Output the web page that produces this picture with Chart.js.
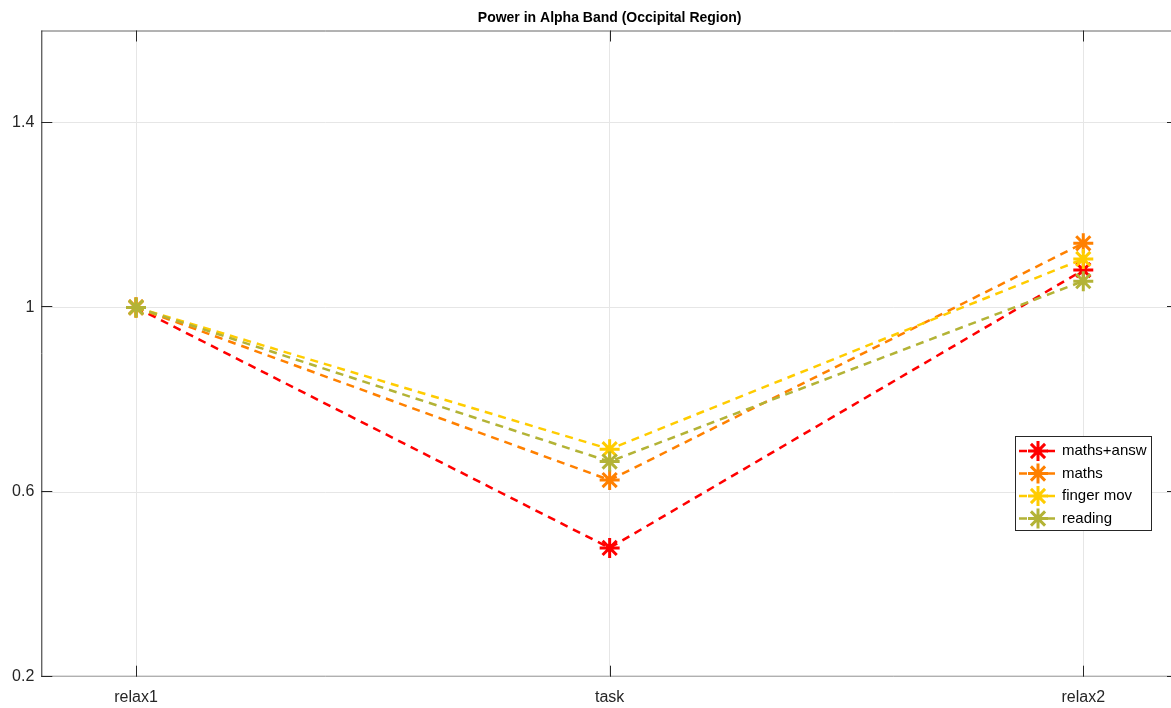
<!DOCTYPE html>
<html>
<head>
<meta charset="utf-8">
<script src="https://cdn.jsdelivr.net/npm/chart.js@4.4.1/dist/chart.umd.min.js"></script>
<style>
html,body{margin:0;padding:0;background:#fff;overflow:hidden;width:1171px;height:708px;}
#wrap{position:absolute;left:0;top:0;width:1192px;height:708px;}
</style>
</head>
<body>
<div id="wrap"><canvas id="c" width="1192" height="708"></canvas></div>
<script>
const categories = ['relax1', 'task', 'relax2'];
const seriesNames = ['maths+answ', 'maths', 'finger mov', 'reading'];
const mathsAnsw = [1.0, 0.479, 1.081];
const maths = [1.0, 0.626, 1.139];
const fingerMov = [1.0, 0.693, 1.105];
const reading = [1.0, 0.666, 1.057];
const yTicks = [0.2, 0.6, 1.0, 1.4];
const titleText = 'Power in Alpha Band (Occipital Region)';

const colors = ['#ff0000', '#ff8000', '#ffcc00', '#b3b336'];
const seriesValues = [mathsAnsw, maths, fingerMov, reading];
const FONT = '"Liberation Sans", Arial, Helvetica, sans-serif';

const datasets = seriesValues.map((vals, i) => ({
  label: seriesNames[i],
  data: vals.map((v, j) => ({x: j + 1, y: v})),
  borderColor: colors[i],
  backgroundColor: colors[i],
  borderWidth: 2.5,
  borderDash: [8, 6],
  pointStyle: 'star',
  pointRadius: 10,
  pointBorderWidth: 3,
  pointBorderColor: colors[i],
  pointHoverRadius: 10,
  tension: 0,
  fill: false,
  order: seriesValues.length - i
}));

const TL = 11;
const framePlugin = {
  id: 'frame',
  afterDatasetsDraw(chart) {
    const ctx = chart.ctx, a = chart.chartArea;
    const xs = chart.scales.x, ys = chart.scales.y;
    ctx.save();
    ctx.lineWidth = 1;
    ctx.strokeStyle = '#666666';
    ctx.beginPath(); ctx.moveTo(a.left, a.top + 0.5); ctx.lineTo(a.right, a.top + 0.5); ctx.stroke();
    ctx.strokeStyle = '#999999';
    ctx.beginPath(); ctx.moveTo(a.left, a.bottom - 0.5); ctx.lineTo(a.right, a.bottom - 0.5); ctx.stroke();
    ctx.strokeStyle = '#262626';
    ctx.beginPath(); ctx.moveTo(a.left + 0.5, a.top); ctx.lineTo(a.left + 0.5, a.bottom); ctx.stroke();
    ctx.beginPath(); ctx.moveTo(a.right - 0.5, a.top); ctx.lineTo(a.right - 0.5, a.bottom); ctx.stroke();
    xs.ticks.forEach(t => {
      const px = Math.round(xs.getPixelForValue(t.value)) + 0.5;
      ctx.beginPath(); ctx.moveTo(px, a.bottom); ctx.lineTo(px, a.bottom - TL); ctx.stroke();
      ctx.beginPath(); ctx.moveTo(px, a.top); ctx.lineTo(px, a.top + TL); ctx.stroke();
    });
    ys.ticks.forEach(t => {
      const py = Math.round(ys.getPixelForValue(t.value)) - 0.5;
      ctx.beginPath(); ctx.moveTo(a.left, py); ctx.lineTo(a.left + TL, py); ctx.stroke();
      ctx.beginPath(); ctx.moveTo(a.right, py); ctx.lineTo(a.right - TL, py); ctx.stroke();
    });
    ctx.fillStyle = '#000000';
    ctx.font = 'bold 14px ' + FONT;
    ctx.textAlign = 'center';
    ctx.textBaseline = 'middle';
    ctx.fillText(titleText, (a.left + a.right) / 2, 18);
    // legend
    const bx = 1015.5, by = 436.5, bw = 136, bh = 94;
    ctx.fillStyle = '#ffffff';
    ctx.fillRect(bx, by, bw, bh);
    ctx.strokeStyle = '#262626';
    ctx.strokeRect(bx, by, bw, bh);
    chart.data.datasets.forEach((ds, i) => {
      const yy = 451 + i * 22.5;
      ctx.save();
      ctx.strokeStyle = ds.borderColor;
      ctx.fillStyle = ds.borderColor;
      ctx.lineWidth = 2.5;
      ctx.setLineDash([8, 6]);
      ctx.beginPath(); ctx.moveTo(1019, yy); ctx.lineTo(1056, yy); ctx.stroke();
      ctx.setLineDash([]);
      ctx.lineWidth = 3;
      Chart.helpers.drawPoint(ctx, {pointStyle: 'star', radius: 10, borderWidth: 3}, 1038, yy);
      ctx.restore();
      ctx.fillStyle = '#000000';
      ctx.font = '15px ' + FONT;
      ctx.textAlign = 'left';
      ctx.textBaseline = 'middle';
      ctx.fillText(ds.label, 1062, yy);
    });
    ctx.restore();
  }
};

new Chart(document.getElementById('c'), {
  type: 'line',
  data: {datasets},
  options: {
    responsive: false,
    animation: false,
    layout: {padding: {top: 30.5, right: 14, left: 0, bottom: 0}},
    plugins: {legend: {display: false}, title: {display: false}, tooltip: {enabled: false}},
    scales: {
      x: {
        type: 'linear',
        min: 0.8, max: 3.2,
        afterBuildTicks: s => { s.ticks = categories.map((c, i) => ({value: i + 1})); },
        afterFit: s => { s.height = 31.3; },
        ticks: {
          callback: v => categories[Math.round(v) - 1] || '',
          font: {family: FONT, size: 16},
          color: '#262626',
          padding: 11,
          maxRotation: 0,
          autoSkip: false
        },
        grid: {color: '#e6e6e6', lineWidth: 1, drawTicks: false},
        border: {display: false}
      },
      y: {
        min: 0.2, max: 1.6,
        afterBuildTicks: s => { s.ticks = yTicks.map(v => ({value: v})); },
        afterFit: s => { s.width = 41.3; },
        ticks: {
          callback: v => String(+v.toFixed(2)),
          font: {family: FONT, size: 16},
          color: '#262626',
          padding: 7
        },
        grid: {color: '#e6e6e6', lineWidth: 1, drawTicks: false},
        border: {display: false}
      }
    }
  },
  plugins: [framePlugin]
});
</script>
</body>
</html>
